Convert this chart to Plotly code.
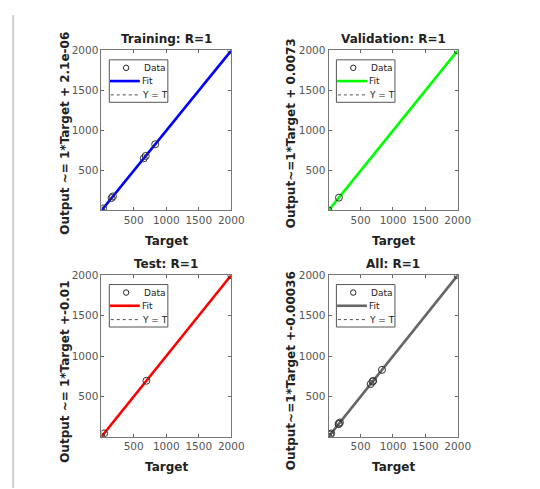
import plotly.graph_objects as go

# ---- data ----
train_target = [5, 30, 160, 180, 655, 685, 830, 2000]
train_output = [5, 30, 160, 180, 655, 685, 830, 2000]
val_target = [5, 165, 2000]
val_output = [5, 165, 2000]
test_target = [5, 45, 695, 2000]
test_output = [5, 45, 695, 2000]
all_target = [5, 30, 45, 160, 165, 180, 655, 685, 695, 830, 2000]
all_output = [5, 30, 45, 160, 165, 180, 655, 685, 695, 830, 2000]

panel_titles = ["Training: R=1", "Validation: R=1", "Test: R=1", "All: R=1"]
y_labels = ["Output ~= 1*Target + 2.1e-06", "Output~=1*Target + 0.0073",
            "Output ~= 1*Target +-0.01", "Output~=1*Target +-0.00036"]
x_label = "Target"
legend_labels = ["Data", "Fit", "Y = T"]
tick_vals = [500, 1000, 1500, 2000]
fit_colors = ["#0000ff", "#00ff00", "#ff0000", "#666666"]

W, H = 540, 489
FONT = "DejaVu Sans"

panels = [(train_target, train_output), (val_target, val_output),
          (test_target, test_output), (all_target, all_output)]

# pixel boxes (left, right, top, bottom)
boxes = [(104, 237, 45, 207), (336.7, 469, 45, 207),
         (104, 237, 272.5, 436), (336.7, 469, 272.5, 436)]
ylabel_pos = [(67, 129), (299, 129), (67, 370), (299, 369)]

fig = go.Figure()
annotations = []
shapes = []
layout = {}


def px(x):
    return x / W


def py(y):
    return 1 - y / H


def text(s, x, y, size=12, angle=0, xanchor="center", color="#222222"):
    return dict(text=s, x=px(x), y=py(y), xref="paper", yref="paper",
                showarrow=False, textangle=angle, xanchor=xanchor, yanchor="middle",
                font=dict(family=FONT, size=size, color=color))


def pline(x0, x1, y, color, width, dash="solid"):
    return dict(type="line", xref="paper", yref="paper", x0=px(x0), x1=px(x1),
                y0=py(y), y1=py(y), line=dict(color=color, width=width, dash=dash))


for i, ((t, o), (l, r, tp, bt)) in enumerate(zip(panels, boxes)):
    n = "" if i == 0 else str(i + 1)
    xa, ya = "x" + n, "y" + n
    lo, hi = min(t), max(t)
    fig.add_trace(go.Scatter(x=[lo, hi], y=[lo, hi], mode="lines", name="Y = T",
                             line=dict(color="black", width=1, dash="dot"),
                             xaxis=xa, yaxis=ya, showlegend=False))
    fig.add_trace(go.Scatter(x=[lo, hi], y=[lo, hi], mode="lines", name="Fit",
                             line=dict(color=fit_colors[i], width=2.6),
                             xaxis=xa, yaxis=ya, showlegend=False))
    fig.add_trace(go.Scatter(x=t, y=o, mode="markers", name="Data",
                             marker=dict(symbol="circle-open", size=7,
                                         color="#333333", line=dict(width=1)),
                             xaxis=xa, yaxis=ya, showlegend=False))
    axis_common = dict(range=[lo, hi], tickvals=tick_vals, ticks="inside",
                       ticklen=3, tickcolor="#666666", showline=True,
                       linecolor="#777777", linewidth=1, mirror="ticks",
                       showgrid=False, zeroline=False,
                       tickfont=dict(family=FONT, size=10.5, color="#555555"))
    layout["xaxis" + n] = dict(axis_common, domain=[px(l), px(r)], anchor=ya)
    layout["yaxis" + n] = dict(axis_common, domain=[py(bt), py(tp)], anchor=xa)

    cx = (l + r) / 2
    annotations.append(text("<b>%s</b>" % panel_titles[i], cx, tp - 11.5))
    annotations.append(text("<b>%s</b>" % x_label, cx, bt + 31))
    lx, ly = ylabel_pos[i]
    annotations.append(text("<b>%s</b>" % y_labels[i], lx, ly, angle=-90))

    # legend box (drawn like the MATLAB legend)
    shapes.append(dict(type="rect", xref="paper", yref="paper",
                       x0=px(l + 8), x1=px(l + 68), y0=py(tp + 9.5), y1=py(tp + 52.5),
                       fillcolor="white", line=dict(color="#555555", width=1)))
    rows = [tp + 17.6, tp + 31, tp + 45]
    shapes.append(dict(type="circle", xref="paper", yref="paper",
                       x0=px(l + 22.5), x1=px(l + 28), y0=py(rows[0] - 2.8), y1=py(rows[0] + 2.8),
                       line=dict(color="#222222", width=1)))
    shapes.append(pline(l + 8.7, l + 39.3, rows[1], fit_colors[i], 2.6))
    shapes.append(pline(l + 9.5, l + 39.3, rows[2], "#222222", 0.8, "dot"))
    for lab, yy in zip(legend_labels, rows):
        annotations.append(text(lab, l + 41 if lab == "Data" else l + 39.5, yy,
                                size=9, xanchor="left"))

shapes.append(dict(type="line", xref="paper", yref="paper",
                   x0=px(13.5), x1=px(13.5), y0=py(9), y1=py(488),
                   line=dict(color="#d0d0d0", width=2)))

fig.update_layout(**layout)
fig.update_layout(width=W, height=H, margin=dict(l=0, r=0, t=0, b=0),
                  paper_bgcolor="white", plot_bgcolor="white",
                  annotations=annotations, shapes=shapes, showlegend=False)
fig.write_html("out.html", config={"displayModeBar": False},
               post_script="document.body.style.margin='0';")
